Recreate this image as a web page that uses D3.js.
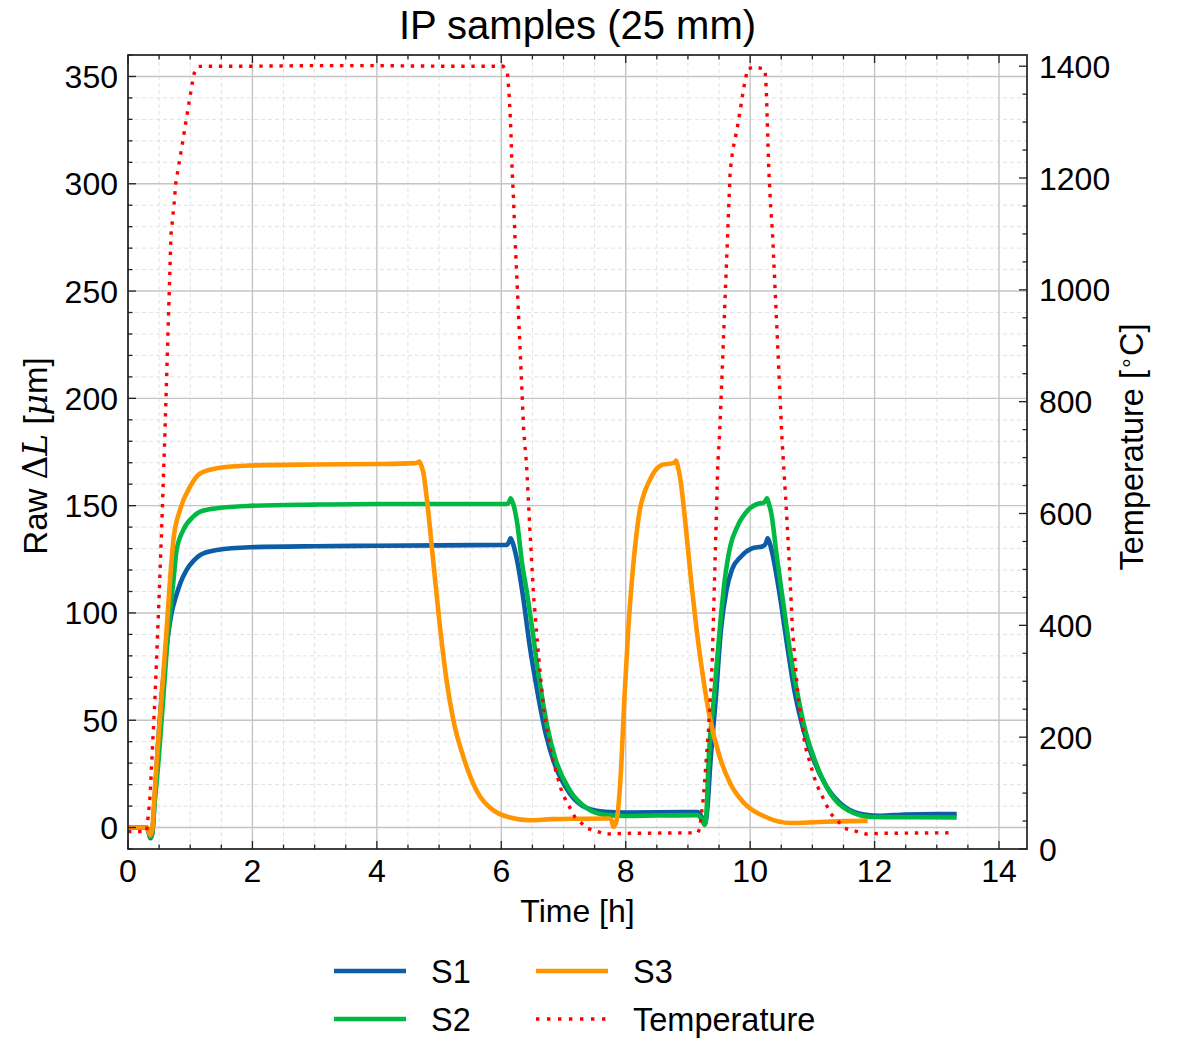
<!DOCTYPE html>
<html><head><meta charset="utf-8">
<script src="https://cdn.jsdelivr.net/npm/d3@7"></script>
<style>
html,body{margin:0;padding:0;background:#fff;}
text{font-family:"Liberation Sans",Arial,sans-serif;fill:#000;}
</style></head>
<body><svg id="chart" width="1178" height="1040"></svg>
<script>
// ---------------- data ----------------
const s1Time = [0,0.30,0.33,0.36,0.39,0.43,0.48,0.54,0.62,0.70,0.77,0.84,0.94,1.06,1.16,1.43,1.96,3.0,4.0,5.0,6.09,6.13,6.15,6.18,6.25,6.35,6.46,6.57,6.72,6.865,7.10,7.38,7.67,8.0,8.5,9.15,9.22,9.27,9.31,9.36,9.45,9.53,9.62,9.705,9.85,10.02,10.22,10.26,10.28,10.31,10.37,10.48,10.60,10.71,10.83,11.0,11.23,11.52,11.86,12.09,12.5,13.32];
const s1Values = [0,0,-2,-5,-3,14,38,61,84,100,107.6,113.8,120,124.5,127,129.3,130.6,131.1,131.3,131.5,131.7,133.5,134.8,133,125,107.6,84,65,43,29,15.9,9.0,7.3,7.0,7.1,7.2,5,1.5,8,29.8,61,92,110.7,120,126.2,130,131.2,133,134.8,133,126,107.6,84,64,48.5,33,19,9.6,5.9,5.5,6.1,6.3];

const s2Time = [0,0.30,0.33,0.36,0.39,0.43,0.487,0.568,0.648,0.73,0.78,0.89,1.05,1.16,1.43,1.96,3.0,4.0,5.0,6.09,6.13,6.15,6.20,6.26,6.33,6.41,6.50,6.60,6.74,6.87,7.1,7.38,7.67,8.0,8.5,9.15,9.22,9.27,9.30,9.33,9.42,9.51,9.59,9.68,9.79,9.97,10.14,10.22,10.25,10.27,10.30,10.34,10.43,10.54,10.655,10.77,10.885,11.06,11.29,11.57,11.97,12.5,13.32];
const s2Values = [0,0,-2,-4.5,-2,12,29.8,61,92,115,129,138.7,144.9,147.2,148.8,149.9,150.5,150.8,150.8,150.8,152,153.4,150,141,124,110,92,71,47,32,17.4,8.9,5.9,5.4,5.6,5.8,4,1.2,8,29.8,61,92,115,131,140,148,151,151.4,152.5,153.4,151,146.4,126,103,79.6,61,45.4,29.8,15.9,8.1,4.9,4.8,4.7];

const s3Time = [0,0.30,0.33,0.36,0.39,0.42,0.46,0.54,0.62,0.675,0.73,0.836,0.997,1.158,1.43,1.96,3.0,4.0,4.61,4.66,4.68,4.71,4.75,4.80,4.91,5.02,5.12,5.23,5.39,5.60,5.87,6.14,6.46,6.81,7.3,7.73,7.77,7.80,7.84,7.87,7.93,7.98,8.04,8.10,8.17,8.23,8.30,8.38,8.47,8.585,8.76,8.79,8.81,8.84,8.88,8.97,9.05,9.14,9.25,9.36,9.51,9.68,9.91,10.25,10.65,11.11,11.86,11.89];
const s3Values = [0,0,-1.5,-3.6,-1,12,29.8,61,92,115.3,134,148,158.9,165,167.4,168.7,169.2,169.4,169.8,170.2,170.5,169,165,154,123,92,68.7,50,33,17.4,8.1,4.7,3.4,3.9,4.1,4.2,3.5,0.3,2,6.5,29.8,61,92,115.3,136,148.5,156,161.5,166.2,169,169.8,170.3,171,168,162,138.7,115.3,92,68.7,50,33,20.5,11.2,4.9,2.1,2.6,3.1,3.1];

const tempTime = [0,0.30,0.354,0.434,0.50,0.54,0.595,0.691,0.74,0.767,0.82,0.874,0.927,0.98,1.034,1.066,1.13,2.0,3.0,4.0,5.0,6.03,6.10,6.125,6.15,6.17,6.195,6.22,6.30,6.36,6.405,6.46,6.52,6.61,6.69,6.81,6.98,7.18,7.38,7.67,8.01,9.16,9.19,9.25,9.33,9.39,9.42,9.45,9.48,9.51,9.635,9.66,9.68,9.72,9.786,9.84,9.89,9.957,10.1,10.24,10.26,10.28,10.30,10.33,10.36,10.51,10.57,10.63,10.68,10.77,10.885,11.06,11.29,11.52,11.86,12.09,13.24];
const tempValues = [31,31,93.5,272,451,570,749,1099,1152.5,1190,1226,1261.5,1298,1334,1370.5,1388,1399.7,1400,1401,1401,1400,1400,1387,1351,1297,1226,1166,1094.6,900,749,689,570,451,332,242.6,165,99.6,57.7,37,26.8,28,29,37,93.5,212.7,332,451,570,689,743,1089,1160,1214,1250,1285,1321,1357,1395.6,1398.5,1394,1357,1285,1214,1148,1100,737,630,511,391.5,272,183,117.4,63.8,37,26.8,28,29];

const seriesNames = ["S1","S2","S3","Temperature"];
const seriesColors = ["#0C5DA5","#00B945","#FF9500","#FF0000"];
const xTicks = [0,2,4,6,8,10,12,14];
const yLeftTicks = [0,50,100,150,200,250,300,350];
const yRightTicks = [0,200,400,600,800,1000,1200,1400];
const titleText = "IP samples (25 mm)";
const xLabel = "Time [h]";

// ---------------- layout ----------------
const L = 128, R = 1027, T = 55, B = 849;
const svg = d3.select("#chart");
const x = d3.scaleLinear().domain([0, 14.45]).range([L, R]);
const y = d3.scaleLinear().domain([-10, 360]).range([B, T]);
const y2 = d3.scaleLinear().domain([0, 1420]).range([B, T]);

const grid = svg.append("g");
// minor grids
d3.range(0, 14.45, 0.5).filter(v => v % 2 !== 0).forEach(v => {
  grid.append("line").attr("x1", x(v)).attr("x2", x(v)).attr("y1", T).attr("y2", B)
    .attr("stroke", "#e2e2e2").attr("stroke-width", 1).attr("stroke-dasharray", "4,3");
});
d3.range(-10, 361, 10).filter(v => v % 50 !== 0).forEach(v => {
  grid.append("line").attr("x1", L).attr("x2", R).attr("y1", y(v)).attr("y2", y(v))
    .attr("stroke", "#e2e2e2").attr("stroke-width", 1).attr("stroke-dasharray", "4,3");
});
// major grids
xTicks.forEach(v => {
  grid.append("line").attr("x1", x(v)).attr("x2", x(v)).attr("y1", T).attr("y2", B)
    .attr("stroke", "#c4c4c4").attr("stroke-width", 1.4);
});
yLeftTicks.forEach(v => {
  grid.append("line").attr("x1", L).attr("x2", R).attr("y1", y(v)).attr("y2", y(v))
    .attr("stroke", "#c4c4c4").attr("stroke-width", 1.4);
});

// ---------------- lines ----------------
function mk(ts, vs) { return ts.map((t, i) => [t, vs[i]]); }
const lineL = d3.line().x(d => x(d[0])).y(d => y(d[1])).curve(d3.curveMonotoneX);
const lineT = d3.line().x(d => x(d[0])).y(d => y2(d[1]));
const plot = svg.append("g");
[[s1Time, s1Values], [s2Time, s2Values], [s3Time, s3Values]].forEach((s, i) => {
  plot.append("path").datum(mk(s[0], s[1])).attr("d", lineL)
    .attr("fill", "none").attr("stroke", seriesColors[i]).attr("stroke-width", 4.6)
    .attr("stroke-linejoin", "round");
});
plot.append("path").datum(mk(tempTime, tempValues)).attr("d", lineT)
  .attr("fill", "none").attr("stroke", seriesColors[3]).attr("stroke-width", 3.4)
  .attr("stroke-dasharray", "3.4,6.7");

// ---------------- axes ----------------
const ax = svg.append("g");
const tickCol = "#222";
d3.range(0, 14.45, 0.5).forEach(v => {
  const major = v % 2 === 0;
  const len = major ? 8 : 4.5;
  ax.append("line").attr("x1", x(v)).attr("x2", x(v)).attr("y1", B).attr("y2", B - len).attr("stroke", tickCol).attr("stroke-width", 1.3);
  ax.append("line").attr("x1", x(v)).attr("x2", x(v)).attr("y1", T).attr("y2", T + len).attr("stroke", tickCol).attr("stroke-width", 1.3);
});
d3.range(-10, 361, 10).forEach(v => {
  const major = v % 50 === 0;
  const len = major ? 8 : 4.5;
  ax.append("line").attr("x1", L).attr("x2", L + len).attr("y1", y(v)).attr("y2", y(v)).attr("stroke", tickCol).attr("stroke-width", 1.3);
});
d3.range(0, 1420, 50).forEach(v => {
  const major = v % 200 === 0;
  const len = major ? 8 : 4.5;
  ax.append("line").attr("x1", R).attr("x2", R - len).attr("y1", y2(v)).attr("y2", y2(v)).attr("stroke", tickCol).attr("stroke-width", 1.3);
});
ax.append("rect").attr("x", L).attr("y", T).attr("width", R - L).attr("height", B - T)
  .attr("fill", "none").attr("stroke", tickCol).attr("stroke-width", 1.7);

// tick labels
xTicks.forEach(v => {
  svg.append("text").attr("x", x(v)).attr("y", 882).attr("text-anchor", "middle")
    .attr("font-size", 32).text(v);
});
yLeftTicks.forEach(v => {
  svg.append("text").attr("x", 118).attr("y", y(v)).attr("dy", "0.36em").attr("text-anchor", "end")
    .attr("font-size", 32).text(v);
});
yRightTicks.forEach(v => {
  svg.append("text").attr("x", 1039).attr("y", y2(v)).attr("dy", "0.36em").attr("text-anchor", "start")
    .attr("font-size", 32).text(v);
});

// axis labels
svg.append("text").attr("x", (L + R) / 2).attr("y", 922).attr("text-anchor", "middle")
  .attr("font-size", 32).text(xLabel);
const yl = svg.append("text").attr("transform", "translate(47,456) rotate(-90)")
  .attr("text-anchor", "middle").attr("font-size", 33);
yl.append("tspan").text("Raw ");
yl.append("tspan").attr("font-family", "'DejaVu Serif',serif").attr("font-size", 33).text("Δ");
yl.append("tspan").attr("font-family", "'DejaVu Serif',serif").attr("font-style", "italic").attr("font-size", 33).text("L");
yl.append("tspan").text(" [");
yl.append("tspan").attr("font-family", "'DejaVu Serif',serif").attr("font-style", "italic").attr("font-size", 33).text("μ");
yl.append("tspan").text("m]");

const yr = svg.append("text").attr("transform", "translate(1143,447) rotate(-90)")
  .attr("text-anchor", "middle").attr("font-size", 32.5);
yr.append("tspan").text("Temperature [");
yr.append("tspan").attr("font-size", 22).attr("dy", -10).text("∘");
yr.append("tspan").attr("dy", 10).text("C]");

// title
svg.append("text").attr("x", (L + R) / 2).attr("y", 39).attr("text-anchor", "middle")
  .attr("font-size", 40).text(titleText);

// legend
const legPos = [[334, 971], [334, 1019], [536, 971], [536, 1019]];
seriesNames.forEach((n, i) => {
  const [lx, ly] = legPos[i];
  const ln = svg.append("line").attr("x1", lx).attr("x2", lx + 72).attr("y1", ly).attr("y2", ly)
    .attr("stroke", seriesColors[i]);
  if (i === 3) ln.attr("stroke-width", 3.4).attr("stroke-dasharray", "3.4,7.6");
  else ln.attr("stroke-width", 4.6);
  svg.append("text").attr("x", lx + 97).attr("y", ly + 11.5).attr("font-size", 32.5).text(n);
});
</script></body></html>
